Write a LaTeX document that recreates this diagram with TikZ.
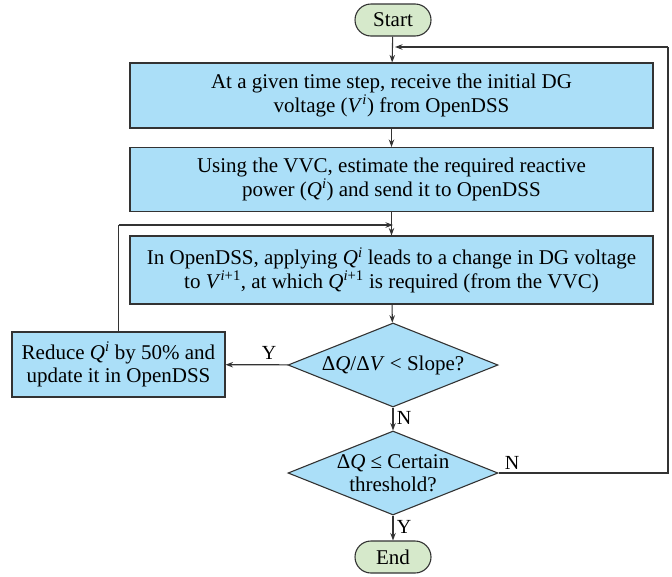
\documentclass[tikz,border=0pt]{standalone}
\usepackage{fontspec}
\setmainfont{Liberation Serif}
\usetikzlibrary{shapes.geometric,shapes.misc,arrows.meta}
\definecolor{boxblue}{HTML}{ABDFF8}
\definecolor{termgreen}{HTML}{D6E9CB}
\definecolor{linegray}{HTML}{333333}
\newcommand{\iQ}{\textit{Q}}
\newcommand{\iV}{\textit{V}}
\begin{document}
\begin{tikzpicture}[x=1pt,y=1pt,
  every node/.style={font=\fontsize{21}{23.5}\selectfont, text=black},
  procbox/.style={draw=linegray, line width=1.1pt, fill=boxblue, rectangle, align=center, inner sep=1pt},
  term/.style={draw=linegray, line width=1.1pt, fill=termgreen, rounded rectangle, minimum width=78pt, minimum height=32pt, inner sep=1pt},
  decis/.style={draw=linegray, line width=1.1pt, fill=boxblue, diamond, aspect=2.5, minimum width=210pt, minimum height=84pt, inner sep=0pt, align=center},
  conn/.style={draw=linegray, line width=1.1pt, -{Stealth[length=7.5pt,width=5.5pt]}},
  plain/.style={draw=linegray, line width=1.1pt},
  lbl/.style={font=\fontsize{20}{22}\selectfont}
]
\useasboundingbox (0,0) rectangle (672,-576);
\node[term] (start) at (393,-20) {Start};
\node[procbox, minimum width=523pt, minimum height=65pt] (b1) at (391.5,-95.5)
  {At a given time step, receive the initial DG\\voltage (\iV\textsuperscript{\textit{i}}) from OpenDSS};
\node[procbox, minimum width=523pt, minimum height=64pt] (b2) at (391.5,-179.5)
  {Using the VVC, estimate the required reactive\\power (\iQ\textsuperscript{\textit{i}}) and send it to OpenDSS};
\node[procbox, minimum width=523pt, minimum height=68pt] (b3) at (391.5,-270)
  {In OpenDSS, applying \iQ\textsuperscript{\textit{i}} leads to a change in DG voltage\\to \iV\textsuperscript{\textit{i}+1}, at which \iQ\textsuperscript{\textit{i}+1} is required (from the VVC)};
\node[decis] (d1) at (393,-365) {Δ\iQ/Δ\iV\ < Slope?};
\node[procbox, minimum width=213pt, minimum height=65pt] (red) at (118.5,-364.5)
  {Reduce \iQ\textsuperscript{\textit{i}} by 50\% and\\update it in OpenDSS};
\node[decis] (d2) at (393,-473) {Δ\iQ\ ≤ Certain\\threshold?};
\node[term] (end) at (393,-557) {End};
\coordinate (m1) at (393,-47);
\coordinate (m2) at (393,-225);
\coordinate (rc) at (668,-473);
\coordinate (rt) at (668,-47);
\coordinate (lt) at (118.5,-225);

\draw[conn] (start) -- (b1);
\draw[conn] (b1) -- (b2);
\draw[conn] (b2) -- (b3);
\draw[conn] (b3) -- (d1);
\draw[conn] (d1) -- node[lbl, above, pos=0.3, yshift=1pt] {Y} (red);
\draw[conn] (d1) -- node[lbl, right, pos=0.45] {N} (d2);
\draw[conn] (d2) -- node[lbl, right, pos=0.45] {Y} (end);
\draw[plain] (red.north) -- (lt);
\draw[conn] (lt) -- (m2);
\draw[plain] (d2.east) -- node[lbl, above, pos=0.08] {N} (rc) -- (rt);
\draw[conn] (rt) -- ([xshift=2pt]m1);
\end{tikzpicture}
\end{document}
